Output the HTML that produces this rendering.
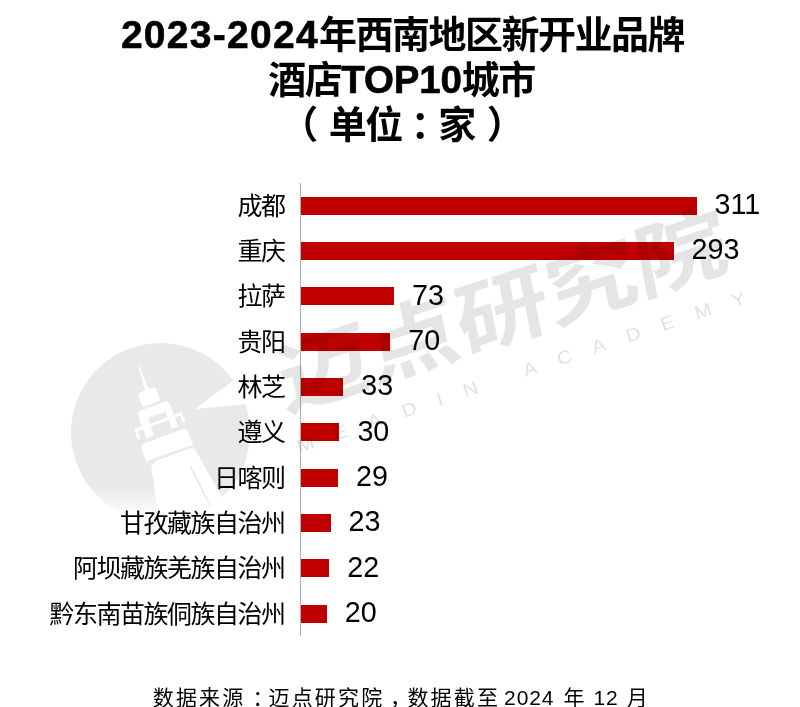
<!DOCTYPE html>
<html lang="zh-CN">
<head>
<meta charset="utf-8">
<title>2023-2024年西南地区新开业品牌酒店TOP10城市</title>
<style>
html,body{margin:0;padding:0;background:#fff;}
body{width:800px;height:707px;position:relative;overflow:hidden;font-family:"Liberation Sans","Noto Sans CJK SC",sans-serif;color:#000;}
.title{position:absolute;left:0;width:805px;text-align:center;font-weight:700;font-size:38px;letter-spacing:-1.5px;line-height:44px;white-space:nowrap;font-family:"Liberation Sans","Noto Sans CJK SC",sans-serif;}
.title .n{font-size:39px;letter-spacing:1.3px;-webkit-text-stroke:0.6px #000;}
.title .t{font-size:38.5px;letter-spacing:-0.2px;-webkit-text-stroke:0.6px #000;}
.title .p{position:relative;}
.cat{position:absolute;right:515.6px;height:30px;line-height:30px;font-size:25px;letter-spacing:-1.5px;white-space:nowrap;text-align:right;font-family:"Liberation Sans","Noto Sans CJK SC",sans-serif;font-weight:400;color:#000;}
.val{position:absolute;height:30px;line-height:30px;font-size:28.7px;white-space:nowrap;font-family:"Liberation Sans","Noto Sans CJK SC",sans-serif;color:#000;letter-spacing:0px;}
.bar{position:absolute;left:301.4px;background:#c00000;}
.axis{position:absolute;left:299.8px;top:182.7px;width:1.2px;height:453.4px;background:#b0b0b0;}
.foot{position:absolute;left:152.8px;top:683.5px;font-size:21px;line-height:28px;color:#000;white-space:pre;letter-spacing:2.15px;word-spacing:-4px;}
.foot .p{position:relative;}
.foot .n{letter-spacing:0.9px;word-spacing:0;display:inline-block;}
.wm{position:absolute;left:0;top:0;width:800px;height:707px;pointer-events:none;}
</style>
</head>
<body>
<div class="title" style="top:12.8px"><span class="n">2023-2024</span>年西南地区新开业品牌</div>
<div class="title" style="top:57.6px;left:-1px">酒店<span class="t">TOP10</span>城市</div>
<div class="title" style="top:102.5px;left:-0.8px"><span class="p" style="left:-12px">（</span>单位<span class="p" style="left:9px">：</span>家<span class="p" style="left:12px">）</span></div>
<div class="axis"></div>

<div class="bar" style="top:196.5px;width:395.2px;height:18.1px"></div>
<div class="cat" style="top:190.6px">成都</div>
<div class="val" style="top:189.0px;left:714.5px">311</div>
<div class="bar" style="top:241.8px;width:372.3px;height:18.1px"></div>
<div class="cat" style="top:235.9px">重庆</div>
<div class="val" style="top:234.3px;left:691.6px">293</div>
<div class="bar" style="top:287.2px;width:92.8px;height:18.1px"></div>
<div class="cat" style="top:281.2px">拉萨</div>
<div class="val" style="top:279.6px;left:412.1px">73</div>
<div class="bar" style="top:332.5px;width:88.9px;height:18.1px"></div>
<div class="cat" style="top:326.6px">贵阳</div>
<div class="val" style="top:325.0px;left:408.2px">70</div>
<div class="bar" style="top:377.9px;width:41.9px;height:18.1px"></div>
<div class="cat" style="top:371.9px">林芝</div>
<div class="val" style="top:370.3px;left:361.2px">33</div>
<div class="bar" style="top:423.2px;width:38.1px;height:18.1px"></div>
<div class="cat" style="top:417.2px">遵义</div>
<div class="val" style="top:415.6px;left:357.4px">30</div>
<div class="bar" style="top:468.5px;width:36.8px;height:18.1px"></div>
<div class="cat" style="top:462.6px">日喀则</div>
<div class="val" style="top:461.0px;left:356.1px">29</div>
<div class="bar" style="top:513.9px;width:29.2px;height:18.1px"></div>
<div class="cat" style="top:507.9px">甘孜藏族自治州</div>
<div class="val" style="top:506.3px;left:348.5px">23</div>
<div class="bar" style="top:559.2px;width:28.0px;height:18.1px"></div>
<div class="cat" style="top:553.3px">阿坝藏族羌族自治州</div>
<div class="val" style="top:551.7px;left:347.3px">22</div>
<div class="bar" style="top:604.6px;width:25.4px;height:18.1px"></div>
<div class="cat" style="top:598.6px">黔东南苗族侗族自治州</div>
<div class="val" style="top:597.0px;left:344.7px">20</div>
<div class="foot">数据来源<span class="p" style="left:7px">：</span>迈点研究院<span class="p" style="left:5.7px">，</span>数据截至 <span class="n" style="margin-right:5px">2024</span> 年 <span class="n" style="margin:0 4.2px 0 3px">12</span> 月</div>
<svg class="wm" width="800" height="707" viewBox="0 0 800 707">
<defs>
<linearGradient id="fade" x1="0" y1="0" x2="0" y2="1" gradientUnits="objectBoundingBox">
<stop offset="0" stop-color="#fff"/><stop offset="0.8" stop-color="#fff"/><stop offset="0.98" stop-color="#000"/>
</linearGradient>
<mask id="m" maskUnits="userSpaceOnUse" x="60" y="330" width="210" height="210">
<rect x="60" y="330" width="210" height="210" fill="#000"/>
<g>
<circle cx="160.5" cy="432.5" r="89.5" fill="url(#fade)"/>
<polygon points="195,409 235,379 262,379 262,404 247,404" fill="#000"/>
<g transform="translate(139.25 366.25) rotate(-20)" fill="#000">
<!-- tower: local coords x=v (right), y=u (down) -->
<polygon points="-1,0 0.2,0 1.2,24 -2.6,24"/>
<path d="M-10.9,39.6 L-10.9,28.2 Q-10.9,26 -8.8,25.6 L-1.4,23.6 L5.8,24.8 Q8.1,25.2 8.1,27.4 L8.1,39.6 Z"/>
<path d="M-18,70 L-18,47 Q-18,42 -13,42 L11,42 Q16,42 16,47 L16,70 L9.3,70 L9.3,60.5 L-9.7,60.5 L-9.7,70 Z M-9.7,51.8 L9.3,51.8 L9.3,58 L-9.7,58 Z" fill-rule="evenodd"/>
<path d="M-18,57.6 L-26.3,57.6 L-26.3,68.5 L-23.5,68.5 L-23.5,60.4 L-18,60.4 Z"/>
<path d="M16,57.6 L24.3,57.6 L24.3,68.5 L21.5,68.5 L21.5,60.4 L16,60.4 Z"/>
<path d="M-26,92 L-26,79 Q-26,74 -21,74 L18.5,74 Q23.5,74 23.5,79 L23.5,92 Z"/>
<path d="M-24.5,106 Q-24.5,94.5 -13,94.5 L23.5,94.5 L36,170 L-38,170 Z M13,111.5 L14.6,111.5 L22,170 L19.3,170 Z" fill-rule="evenodd"/>
</g>
</g>
</mask>
</defs>
<rect x="60" y="330" width="210" height="210" fill="#000" fill-opacity="0.085" mask="url(#m)"/>
<g transform="translate(284 412) rotate(-18) skewX(-7) scale(1.19 1)" fill="#000" fill-opacity="0.1">
<text x="0" y="0" font-family="'Liberation Sans','Noto Sans CJK SC',sans-serif" font-weight="700" font-size="80" letter-spacing="-1.2">迈点研究院</text>
</g>
<g transform="translate(299.5 452.75) rotate(-18.5) scale(1.1 1)" fill="#000" fill-opacity="0.12">
<text x="0" y="0" font-family="'Liberation Sans',sans-serif" font-size="18.5" letter-spacing="20.1">MEADIN ACADEMY</text>
</g>
</svg>

</body>
</html>
